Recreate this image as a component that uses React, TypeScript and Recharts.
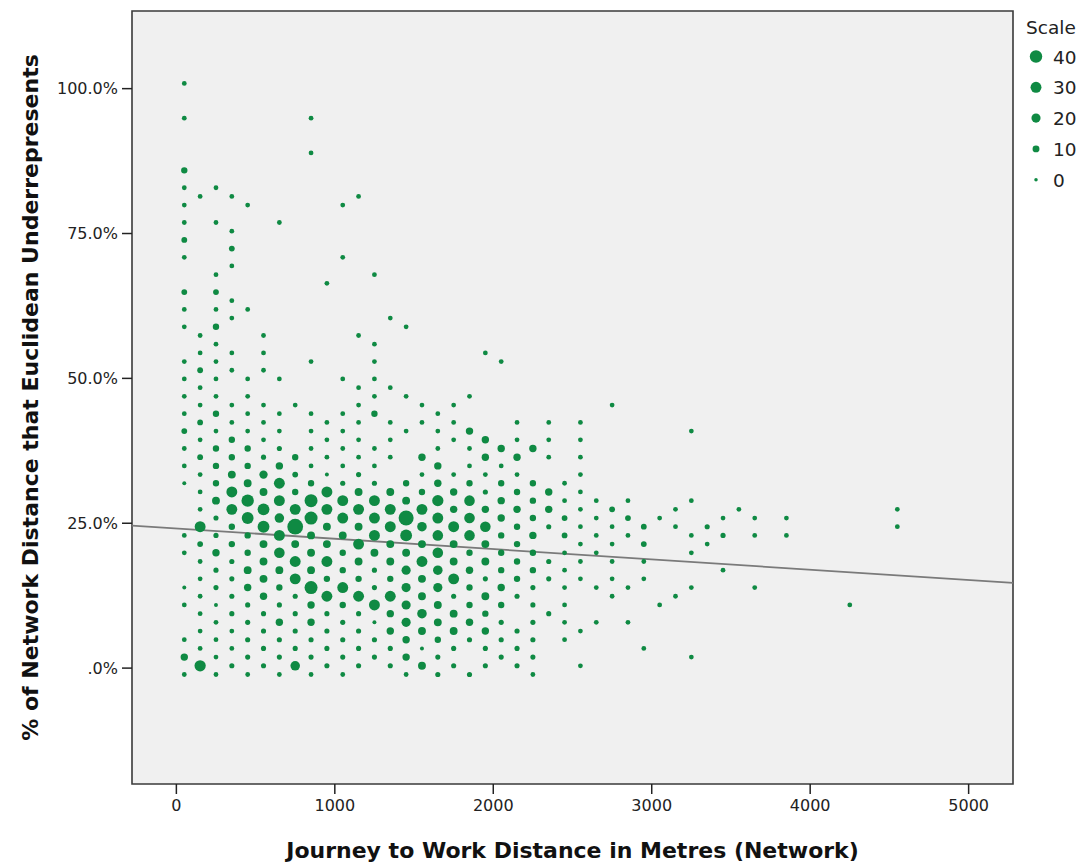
import React from 'react';
import {
  ScatterChart,
  Scatter,
  XAxis,
  YAxis,
  ZAxis,
  CartesianGrid,
  ReferenceLine,
  ReferenceArea,
  Label
} from 'recharts';

// each bin: [percent, count] ; columns are 100 m wide hex bins
type Bin = [number, number];

const c50: Bin[] = [[100.9, 3], [94.9, 3], [85.9, 8], [82.9, 3], [79.9, 3], [76.9, 3], [73.9, 6], [70.9, 3], [64.9, 6], [61.9, 3], [58.9, 3], [52.9, 3], [49.9, 3], [46.9, 3], [43.9, 3], [40.9, 6], [37.9, 3], [34.9, 3], [31.9, 1], [22.9, 3], [19.9, 3], [13.9, 1], [10.9, 3], [4.9, 3], [1.9, 12], [-1.1, 3]];
const c150: Bin[] = [[81.4, 3], [57.4, 3], [54.4, 3], [51.4, 6], [48.4, 3], [45.4, 3], [42.4, 6], [39.4, 3], [36.4, 6], [33.4, 3], [30.4, 3], [27.4, 3], [24.4, 30], [21.4, 6], [18.4, 3], [15.4, 3], [12.4, 3], [9.4, 3], [6.4, 3], [3.4, 3], [0.4, 32]];
const c250: Bin[] = [[82.9, 3], [76.9, 3], [67.9, 3], [64.9, 6], [61.9, 3], [58.9, 8], [55.9, 3], [52.9, 3], [49.9, 3], [46.9, 3], [43.9, 8], [40.9, 3], [37.9, 8], [34.9, 8], [31.9, 8], [28.9, 14], [25.9, 4], [22.9, 4], [19.9, 12], [16.9, 4], [13.9, 4], [10.9, 1], [7.9, 3], [4.9, 3], [1.9, 3], [-1.1, 3]];
const c350: Bin[] = [[81.4, 3], [75.4, 3], [72.4, 6], [69.4, 3], [63.4, 3], [60.4, 3], [54.4, 3], [51.4, 3], [45.4, 3], [42.4, 3], [39.4, 8], [36.4, 8], [33.4, 14], [30.4, 30], [27.4, 30], [24.4, 8], [21.4, 8], [18.4, 4], [15.4, 4], [12.4, 4], [9.4, 4], [6.4, 3], [3.4, 3], [0.4, 4]];
const c450: Bin[] = [[79.9, 3], [61.9, 3], [49.9, 3], [46.9, 3], [43.9, 3], [40.9, 3], [37.9, 8], [34.9, 8], [31.9, 14], [28.9, 40], [25.9, 36], [22.9, 8], [19.9, 8], [16.9, 14], [13.9, 12], [10.9, 4], [7.9, 4], [4.9, 4], [1.9, 4], [-1.1, 3]];
const c550: Bin[] = [[57.4, 3], [54.4, 3], [51.4, 3], [45.4, 3], [42.4, 3], [39.4, 3], [36.4, 4], [33.4, 16], [30.4, 14], [27.4, 36], [24.4, 36], [21.4, 14], [18.4, 14], [15.4, 14], [12.4, 12], [9.4, 4], [6.4, 4], [3.4, 4], [0.4, 4]];
const c650: Bin[] = [[76.9, 3], [49.9, 3], [43.9, 3], [40.9, 3], [37.9, 4], [34.9, 12], [31.9, 30], [28.9, 30], [25.9, 22], [22.9, 30], [19.9, 28], [16.9, 14], [13.9, 8], [10.9, 4], [7.9, 12], [4.9, 4], [1.9, 4], [-1.1, 3]];
const c750: Bin[] = [[45.4, 3], [36.4, 8], [33.4, 6], [30.4, 8], [27.4, 30], [24.4, 66], [21.4, 14], [18.4, 30], [15.4, 30], [12.4, 4], [9.4, 4], [6.4, 4], [3.4, 4], [0.4, 22]];
const c850: Bin[] = [[94.9, 3], [88.9, 3], [52.9, 3], [43.9, 3], [40.9, 3], [37.9, 3], [34.9, 3], [31.9, 8], [28.9, 44], [25.9, 44], [22.9, 14], [19.9, 14], [16.9, 14], [13.9, 44], [10.9, 12], [7.9, 12], [4.9, 4], [1.9, 4], [-1.1, 3]];
const c950: Bin[] = [[66.4, 3], [42.4, 3], [39.4, 3], [36.4, 3], [33.4, 1], [30.4, 30], [27.4, 30], [24.4, 14], [21.4, 14], [18.4, 30], [15.4, 8], [12.4, 30], [9.4, 4], [6.4, 4], [3.4, 4], [0.4, 4]];
const c1050: Bin[] = [[79.9, 3], [70.9, 3], [49.9, 3], [43.9, 3], [40.9, 3], [37.9, 3], [34.9, 3], [31.9, 4], [28.9, 30], [25.9, 30], [22.9, 14], [19.9, 8], [16.9, 8], [13.9, 30], [10.9, 8], [7.9, 4], [4.9, 4], [1.9, 4], [-1.1, 3]];
const c1150: Bin[] = [[81.4, 3], [57.4, 3], [48.4, 3], [45.4, 3], [42.4, 3], [39.4, 3], [36.4, 3], [33.4, 4], [30.4, 14], [27.4, 30], [24.4, 14], [21.4, 30], [18.4, 14], [15.4, 8], [12.4, 30], [9.4, 4], [6.4, 4], [3.4, 4], [0.4, 4]];
const c1250: Bin[] = [[67.9, 3], [55.9, 3], [52.9, 3], [49.9, 3], [46.9, 3], [43.9, 8], [37.9, 3], [34.9, 3], [31.9, 4], [28.9, 30], [25.9, 30], [22.9, 30], [19.9, 14], [16.9, 4], [13.9, 4], [10.9, 30], [7.9, 1], [4.9, 4], [1.9, 4]];
const c1350: Bin[] = [[60.4, 3], [48.4, 3], [42.4, 3], [39.4, 3], [36.4, 3], [30.4, 14], [27.4, 30], [24.4, 30], [21.4, 14], [18.4, 14], [15.4, 8], [12.4, 30], [9.4, 12], [6.4, 12], [3.4, 4], [0.4, 4]];
const c1450: Bin[] = [[58.9, 3], [46.9, 3], [40.9, 3], [31.9, 8], [28.9, 14], [25.9, 60], [22.9, 36], [19.9, 14], [16.9, 20], [13.9, 20], [10.9, 20], [7.9, 20], [4.9, 12], [1.9, 12], [-1.1, 3]];
const c1550: Bin[] = [[45.4, 3], [42.4, 3], [36.4, 12], [33.4, 3], [30.4, 8], [27.4, 30], [24.4, 22], [21.4, 14], [18.4, 30], [15.4, 14], [12.4, 14], [9.4, 22], [6.4, 14], [3.4, 1], [0.4, 14]];
const c1650: Bin[] = [[43.9, 3], [40.9, 3], [37.9, 3], [34.9, 12], [31.9, 12], [28.9, 32], [25.9, 30], [22.9, 28], [19.9, 28], [16.9, 22], [13.9, 20], [10.9, 14], [7.9, 14], [4.9, 8], [1.9, 4], [-1.1, 4]];
const c1750: Bin[] = [[45.4, 3], [42.4, 3], [39.4, 3], [33.4, 3], [30.4, 12], [27.4, 12], [24.4, 30], [21.4, 14], [18.4, 14], [15.4, 30], [12.4, 4], [9.4, 14], [6.4, 14], [3.4, 4], [0.4, 4]];
const c1850: Bin[] = [[46.9, 3], [40.9, 12], [37.9, 3], [34.9, 3], [31.9, 8], [28.9, 28], [25.9, 28], [22.9, 28], [19.9, 8], [16.9, 12], [13.9, 8], [10.9, 8], [7.9, 12], [4.9, 4], [-1.1, 4]];
const c1950: Bin[] = [[54.4, 3], [39.4, 12], [36.4, 12], [33.4, 3], [30.4, 4], [27.4, 12], [24.4, 28], [21.4, 14], [18.4, 14], [15.4, 4], [12.4, 14], [9.4, 8], [6.4, 12], [3.4, 4], [0.4, 4]];
const c2050: Bin[] = [[52.9, 3], [37.9, 12], [34.9, 3], [31.9, 8], [28.9, 12], [25.9, 12], [22.9, 8], [19.9, 8], [16.9, 8], [13.9, 12], [10.9, 8], [7.9, 4], [4.9, 4], [1.9, 4]];
const c2150: Bin[] = [[42.4, 3], [39.4, 3], [36.4, 12], [33.4, 3], [30.4, 8], [27.4, 12], [24.4, 8], [21.4, 8], [18.4, 8], [15.4, 8], [12.4, 4], [6.4, 4], [3.4, 4], [0.4, 4]];
const c2250: Bin[] = [[37.9, 12], [31.9, 8], [28.9, 8], [25.9, 8], [22.9, 12], [19.9, 8], [16.9, 8], [13.9, 4], [10.9, 4], [7.9, 4], [4.9, 4], [1.9, 4], [-1.1, 3]];
const c2350: Bin[] = [[42.4, 3], [39.4, 3], [36.4, 3], [30.4, 12], [27.4, 12], [24.4, 4], [18.4, 4], [15.4, 4], [9.4, 4]];
const c2450: Bin[] = [[31.9, 3], [28.9, 3], [25.9, 6], [22.9, 6], [19.9, 3], [16.9, 3], [13.9, 3], [10.9, 3], [7.9, 3], [4.9, 3]];
const c2550: Bin[] = [[42.4, 3], [39.4, 3], [36.4, 3], [33.4, 3], [30.4, 3], [27.4, 3], [24.4, 3], [21.4, 3], [18.4, 3], [15.4, 3], [6.4, 3], [0.4, 3]];
const c2650: Bin[] = [[28.9, 3], [25.9, 3], [22.9, 3], [19.9, 3], [13.9, 3], [7.9, 3]];
const c2750: Bin[] = [[45.4, 3], [27.4, 6], [24.4, 3], [21.4, 3], [18.4, 3], [15.4, 3], [12.4, 3]];
const c2850: Bin[] = [[28.9, 3], [25.9, 6], [22.9, 3], [13.9, 3], [7.9, 3]];
const c2950: Bin[] = [[24.4, 6], [21.4, 6], [18.4, 3], [15.4, 3], [3.4, 3]];
const c3050: Bin[] = [[25.9, 3], [10.9, 3]];
const c3150: Bin[] = [[27.4, 3], [24.4, 3], [12.4, 3]];
const c3250: Bin[] = [[40.9, 3], [28.9, 3], [22.9, 3], [19.9, 3], [13.9, 3], [1.9, 3]];
const c3350: Bin[] = [[24.4, 4], [21.4, 3]];
const c3450: Bin[] = [[25.9, 3], [22.9, 4], [16.9, 3]];
const c3550: Bin[] = [[27.4, 3]];
const c3650: Bin[] = [[25.9, 3], [22.9, 3], [13.9, 3]];
const c3850: Bin[] = [[25.9, 3], [22.9, 3]];
const c4250: Bin[] = [[10.9, 3]];
const c4550: Bin[] = [[27.4, 3], [24.4, 3]];

const binColumns: [number, Bin[]][] = [
  [50, c50], [150, c150], [250, c250], [350, c350], [450, c450], [550, c550],
  [650, c650], [750, c750], [850, c850], [950, c950], [1050, c1050], [1150, c1150],
  [1250, c1250], [1350, c1350], [1450, c1450], [1550, c1550], [1650, c1650],
  [1750, c1750], [1850, c1850], [1950, c1950], [2050, c2050], [2150, c2150],
  [2250, c2250], [2350, c2350], [2450, c2450], [2550, c2550], [2650, c2650],
  [2750, c2750], [2850, c2850], [2950, c2950], [3050, c3050], [3150, c3150],
  [3250, c3250], [3350, c3350], [3450, c3450], [3550, c3550], [3650, c3650],
  [3850, c3850], [4250, c4250], [4550, c4550]
];

const xTicks = [0, 1000, 2000, 3000, 4000, 5000];
const yTicks = [0, 25, 50, 75, 100];
const legendCounts = [40, 30, 20, 10, 0];

// linear fit line
const fitIntercept = 24.1;
const fitSlope = -0.00178;

const X_DOMAIN: [number, number] = [-280, 5280];
const Y_DOMAIN: [number, number] = [-20, 113.4];

// marker area = SIZE_MIN + SIZE_PER * count
const SIZE_MIN = 9.6;
const SIZE_PER = 2.8;
const Z_MAX = 70;

const GREEN = '#0f8a43';
const FONT = '"DejaVu Sans", "Liberation Sans", Arial, sans-serif';

const points = binColumns.flatMap(([x, bins]) => bins.map(([y, n]) => ({ x, y, n })));

const fitSegment = [
  { x: X_DOMAIN[0], y: fitIntercept + fitSlope * X_DOMAIN[0] },
  { x: X_DOMAIN[1], y: fitIntercept + fitSlope * X_DOMAIN[1] }
];

const fmtPct = (v: number) => (v === 0 ? '.0%' : `${v.toFixed(1)}%`);

const radiusFor = (n: number) => Math.sqrt((SIZE_MIN + SIZE_PER * n) / Math.PI);

function ScaleLegend() {
  return (
    <svg
      width={70}
      height={200}
      style={{ position: 'absolute', left: 1015, top: 0, fontFamily: FONT }}
    >
      <text x={11} y={27} fontSize={18.5} fill="#222" dominantBaseline="central">Scale</text>
      {legendCounts.map((c, i) => (
        <g key={c}>
          <circle cx={21} cy={56.5 + i * 30.8} r={radiusFor(c)} fill={GREEN} />
          <text x={38} y={57 + i * 30.8} fontSize={18.5} fill="#222" dominantBaseline="central">{c}</text>
        </g>
      ))}
    </svg>
  );
}

export default function App() {
  return (
    <div style={{ position: 'absolute', left: 0, top: 0, width: 1080, height: 866, background: '#fff' }}>
      <ScatterChart
        width={1080}
        height={866}
        margin={{ top: 11, right: 67, bottom: 0, left: 0 }}
        style={{ fontFamily: FONT }}
      >
        <CartesianGrid horizontal={false} vertical={false} fill="#f0f0f0" />
        <XAxis
          type="number"
          dataKey="x"
          domain={X_DOMAIN}
          ticks={xTicks}
          allowDataOverflow
          height={82}
          axisLine={false}
          tickSize={10}
          tickMargin={6}
          tickLine={{ stroke: '#222', strokeWidth: 1.5 }}
          tick={{ fill: '#222', fontSize: 16 }}
        >
          <Label
            value="Journey to Work Distance in Metres (Network)"
            position="insideBottom"
            offset={8}
            style={{ fontSize: 22, fontWeight: 'bold', fill: '#111' }}
          />
        </XAxis>
        <YAxis
          type="number"
          dataKey="y"
          domain={Y_DOMAIN}
          ticks={yTicks}
          allowDataOverflow
          width={132}
          axisLine={false}
          tickSize={10}
          tickMargin={4}
          tickFormatter={fmtPct}
          tickLine={{ stroke: '#222', strokeWidth: 1.5 }}
          tick={{ fill: '#222', fontSize: 16 }}
        >
          <Label
            content={({ viewBox }: any) => {
              const cy = viewBox.y + viewBox.height / 2;
              return (
                <text
                  x={30}
                  y={cy}
                  transform={`rotate(-90, 30, ${cy})`}
                  textAnchor="middle"
                  dominantBaseline="central"
                  style={{ fontSize: 22, fontWeight: 'bold', fill: '#111', fontFamily: FONT }}
                >
                  % of Network Distance that Euclidean Underrepresents
                </text>
              );
            }}
          />
        </YAxis>
        <ZAxis
          type="number"
          dataKey="n"
          domain={[0, Z_MAX]}
          range={[SIZE_MIN, SIZE_MIN + SIZE_PER * Z_MAX]}
        />
        <Scatter data={points} fill={GREEN} isAnimationActive={false} />
        <ReferenceLine
          segment={fitSegment}
          stroke="#7a7a7a"
          strokeWidth={1.8}
          ifOverflow="hidden"
        />
        <ReferenceArea
          x1={X_DOMAIN[0]}
          x2={X_DOMAIN[1]}
          y1={Y_DOMAIN[0]}
          y2={Y_DOMAIN[1]}
          fill="none"
          stroke="#3a3a3a"
          strokeWidth={1.6}
          ifOverflow="visible"
        />
      </ScatterChart>
      <ScaleLegend />
    </div>
  );
}
